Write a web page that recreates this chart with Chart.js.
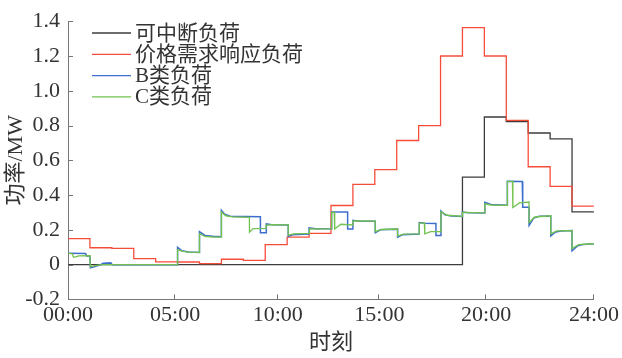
<!DOCTYPE html>
<html>
<head>
<meta charset="utf-8">
<script src="https://cdn.jsdelivr.net/npm/chart.js@4/dist/chart.umd.min.js"></script>
<style>
  html, body { margin: 0; padding: 0; background: #ffffff; }
  #wrap { width: 622px; height: 358px; }
</style>
</head>
<body>
<div id="wrap"><canvas id="c" width="622" height="358"></canvas></div>
<script>
// Hour boundaries of the dispatch day
const hourMarks = [0, 1, 2, 3, 4, 5, 6, 7, 8, 9, 10, 11, 12, 13, 14, 15, 16, 17, 18, 19, 20, 21, 22, 23, 24];

// Hourly power (MW) of the interruptible load, hours 0..23
const interruptible = [0, 0, 0, 0, 0, 0,
                       0, 0, 0, 0, 0, 0,
                       0, 0, 0, 0, 0, 0,
                       0.503, 0.849, 0.823, 0.757, 0.723, 0.303];

// Hourly power (MW) of the price-based demand response load, hours 0..23
const priceResponse = [0.15, 0.097, 0.093, 0.035, 0.016, 0.015,
                       0.006, 0.031, 0.024, 0.115, 0.158, 0.18,
                       0.34, 0.462, 0.546, 0.714, 0.80, 1.2,
                       1.363, 1.2, 0.83, 0.563, 0.45, 0.337];

// Class B load: [hour, MW]
const loadB = [
  [0, 0.066], [0.8, 0.064], [0.85, 0.05], [1.0, 0.05],
  [1.02, -0.018], [1.2, -0.012], [1.5, 0], [1.6, 0.008], [1.95, 0.01], [2.02, 0],
  [5.0, 0],
  [5.0, 0.1], [5.2, 0.08], [5.5, 0.073], [6.0, 0.07],
  [6.0, 0.19], [6.25, 0.168], [6.6, 0.163], [7.0, 0.16],
  [7.0, 0.312], [7.15, 0.29], [7.4, 0.278], [8.78, 0.275],
  [8.78, 0.183], [9.05, 0.183],
  [9.05, 0.235], [9.3, 0.23], [10.05, 0.228],
  [10.05, 0.162], [10.25, 0.172], [11.0, 0.176],
  [11.0, 0.212], [11.3, 0.207], [12.03, 0.207],
  [12.03, 0.303], [12.76, 0.302],
  [12.76, 0.205], [13.0, 0.205],
  [13.0, 0.255], [13.3, 0.25], [14.02, 0.25],
  [14.02, 0.183], [14.25, 0.2], [15.04, 0.204],
  [15.04, 0.158], [15.25, 0.172], [16.03, 0.176],
  [16.03, 0.242], [16.3, 0.238], [16.79, 0.237],
  [16.79, 0.168], [17.02, 0.168],
  [17.02, 0.308], [17.2, 0.287], [17.5, 0.279], [18.0, 0.277],
  [18.0, 0.302], [18.3, 0.298], [19.02, 0.297],
  [19.02, 0.358], [19.3, 0.346], [20.05, 0.341],
  [20.05, 0.479], [20.73, 0.478],
  [20.75, 0.33], [21.04, 0.33],
  [21.04, 0.226], [21.25, 0.268], [21.5, 0.278], [22.03, 0.28],
  [22.03, 0.165], [22.25, 0.188], [22.5, 0.194], [23.0, 0.196],
  [23.0, 0.08], [23.25, 0.108], [23.5, 0.116], [24.0, 0.12]
];

// Class C load: [hour, MW]
const loadC = [
  [0, 0.066], [0.2, 0.062], [0.25, 0.042], [0.5, 0.05], [1.0, 0.052],
  [1.02, -0.012], [1.3, -0.004], [1.6, 0], [5.0, 0],
  [5.0, 0.085], [5.25, 0.076], [5.5, 0.072], [6.0, 0.07],
  [6.0, 0.178], [6.25, 0.162], [6.6, 0.159], [7.0, 0.158],
  [7.0, 0.303], [7.2, 0.281], [7.5, 0.275], [8.28, 0.272],
  [8.28, 0.186], [8.45, 0.207], [9.04, 0.209],
  [9.04, 0.226], [9.3, 0.23], [10.05, 0.229],
  [10.05, 0.17], [10.3, 0.177], [11.02, 0.18],
  [11.02, 0.205], [12.03, 0.207],
  [12.03, 0.3], [12.15, 0.3],
  [12.17, 0.205], [12.45, 0.232], [13.0, 0.228],
  [13.0, 0.252], [14.02, 0.25],
  [14.02, 0.19], [14.3, 0.202], [15.04, 0.205],
  [15.04, 0.164], [15.3, 0.175], [16.03, 0.177],
  [16.03, 0.239], [16.26, 0.239],
  [16.28, 0.177], [16.55, 0.19], [17.02, 0.19],
  [17.02, 0.303], [17.3, 0.284], [18.0, 0.278],
  [18.0, 0.3], [19.02, 0.298],
  [19.02, 0.35], [19.3, 0.343], [20.05, 0.341],
  [20.05, 0.479], [20.28, 0.479],
  [20.3, 0.328], [20.6, 0.355], [21.04, 0.36],
  [21.04, 0.243], [21.3, 0.274], [22.03, 0.281],
  [22.03, 0.177], [22.3, 0.194], [23.0, 0.196],
  [23.0, 0.092], [23.3, 0.115], [24.0, 0.12]
];

// Time axis tick positions (hours) and their labels
const timeTickHours = [0, 4.89, 9.57, 14.21, 19.08, 24];
const timeTickLabels = ['00:00', '05:00', '10:00', '15:00', '20:00', '24:00'];

const seriesNames = ['可中断负荷', '价格需求响应负荷', 'B类负荷', 'C类负荷'];
const seriesColors = ['#3c3c3c', '#f84c3a', '#3e6ecd', '#72c24e'];

const FONT_FAMILY = '"Liberation Serif", "Noto Sans CJK SC", serif';
const TEXT_COLOR = '#333333';
const AXIS_COLOR = '#767676';

// Each hourly value is held from its hour until the next one
function hourlySteps(values) {
  const pts = values.map((v, i) => ({ x: hourMarks[i], y: v }));
  pts.push({ x: hourMarks[values.length], y: values[values.length - 1] });
  return pts;
}
function toPoints(pairs) {
  return pairs.map(([x, y]) => ({ x, y }));
}

// Inward-pointing tick marks on both axes
const innerTicks = {
  id: 'innerTicks',
  afterDraw(chart) {
    const { ctx, chartArea: a } = chart;
    const xs = chart.scales.x, ys = chart.scales.y;
    ctx.save();
    ctx.strokeStyle = AXIS_COLOR;
    ctx.lineWidth = 1;
    ctx.beginPath();
    xs.ticks.forEach(t => {
      if (t.value <= xs.min) return;
      const px = Math.round(xs.getPixelForValue(t.value)) - 0.5;
      ctx.moveTo(px, a.bottom);
      ctx.lineTo(px, a.bottom - 5);
    });
    ys.ticks.forEach(t => {
      if (t.value <= ys.min + 1e-9) return;
      const py = Math.round(ys.getPixelForValue(t.value)) + 0.5;
      ctx.moveTo(a.left, py);
      ctx.lineTo(a.left + 5, py);
    });
    ctx.stroke();
    ctx.restore();
  }
};

// Legend drawn inside the plot, upper left
const innerLegend = {
  id: 'innerLegend',
  afterDraw(chart) {
    const { ctx, chartArea: a } = chart;
    ctx.save();
    ctx.font = '21px ' + FONT_FAMILY;
    ctx.textBaseline = 'middle';
    ctx.textAlign = 'left';
    chart.data.datasets.forEach((ds, i) => {
      const y = 33 + i * 21.3;
      ctx.strokeStyle = ds.borderColor;
      ctx.lineWidth = 1.3;
      ctx.beginPath();
      ctx.moveTo(a.left + 24, y);
      ctx.lineTo(a.left + 63, y);
      ctx.stroke();
      ctx.fillStyle = TEXT_COLOR;
      ctx.fillText(ds.label, a.left + 67, y + 1);
    });
    ctx.restore();
  }
};

new Chart(document.getElementById('c'), {
  type: 'line',
  data: {
    datasets: [
      { label: seriesNames[0], data: hourlySteps(interruptible), borderColor: seriesColors[0], stepped: 'before', order: 4 },
      { label: seriesNames[1], data: hourlySteps(priceResponse), borderColor: seriesColors[1], stepped: 'before', order: 3 },
      { label: seriesNames[2], data: toPoints(loadB), borderColor: seriesColors[2], borderWidth: 1.5, order: 2 },
      { label: seriesNames[3], data: toPoints(loadC), borderColor: seriesColors[3], order: 1 }
    ]
  },
  options: {
    responsive: false,
    animation: false,
    devicePixelRatio: 1,
    layout: { padding: { top: 15, right: 27, left: 0, bottom: 0 } },
    elements: {
      point: { radius: 0 },
      line: { borderWidth: 1.3, tension: 0, fill: false }
    },
    plugins: {
      legend: { display: false },
      tooltip: { enabled: false }
    },
    scales: {
      x: {
        type: 'linear',
        min: 0,
        max: 24,
        afterBuildTicks: s => { s.ticks = timeTickHours.map(v => ({ value: v })); },
        afterFit: s => { s.height = 58.6; },
        grid: { display: false, drawTicks: false },
        border: { display: true, color: AXIS_COLOR, width: 1 },
        ticks: {
          autoSkip: false,
          maxRotation: 0,
          padding: 3,
          color: TEXT_COLOR,
          font: { family: FONT_FAMILY, size: 22 },
          callback: (v, i) => timeTickLabels[i]
        },
        title: {
          display: true,
          text: '时刻',
          color: TEXT_COLOR,
          font: { family: FONT_FAMILY, size: 22 },
          padding: { top: 0, bottom: 2 }
        }
      },
      y: {
        min: -0.2,
        max: 1.4,
        afterFit: s => { s.width = 68; },
        grid: { display: false, drawTicks: false },
        border: { display: true, color: AXIS_COLOR, width: 1 },
        ticks: {
          stepSize: 0.2,
          padding: 8,
          color: TEXT_COLOR,
          font: { family: FONT_FAMILY, size: 22 },
          callback: v => (Math.abs(v) < 1e-9 ? '0' : v.toFixed(1))
        },
        title: {
          display: true,
          text: '功率/MW',
          color: TEXT_COLOR,
          font: { family: FONT_FAMILY, size: 22 },
          padding: { top: 3, bottom: 0 }
        }
      }
    }
  },
  plugins: [innerTicks, innerLegend]
});
</script>
</body>
</html>
